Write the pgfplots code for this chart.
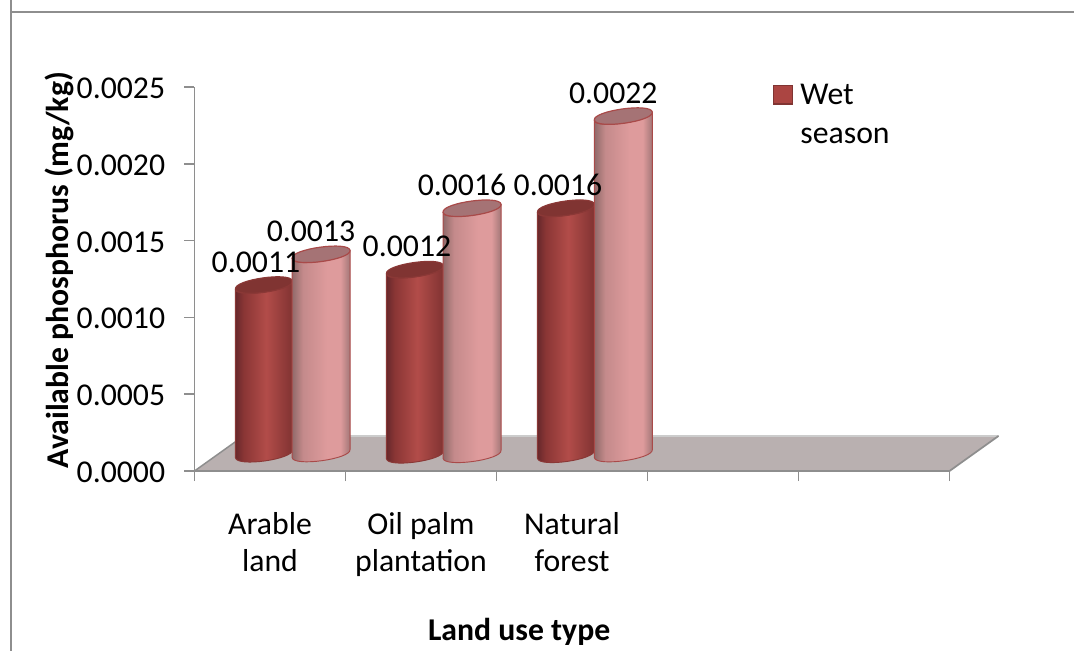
\documentclass[border=0pt]{standalone}
\usepackage{pgfplots}
\pgfplotsset{compat=1.18}
\usepackage{fontspec}
\setmainfont{Carlito}

\definecolor{axisgray}{HTML}{8E8E8E}
\definecolor{floorfill}{HTML}{B9B0B0}
\definecolor{edgered}{HTML}{A94A49}
\definecolor{edgedark}{HTML}{8A3836}
\definecolor{capdark}{HTML}{803432}
\definecolor{cappink}{HTML}{A57375}
\definecolor{legfill}{HTML}{AB4542}

\definecolor{dA}{HTML}{62262A}
\definecolor{dB}{HTML}{8A3635}
\definecolor{dC}{HTML}{B24C49}
\definecolor{dD}{HTML}{7E3231}
\definecolor{pA}{HTML}{8A6666}
\definecolor{pB}{HTML}{C48A8B}
\definecolor{pC}{HTML}{DE9B9C}
\definecolor{pD}{HTML}{9A7272}
\pgfdeclarehorizontalshading{cylDark}{100bp}{
  color(0bp)=(dA); color(25bp)=(dA); color(33bp)=(dB); color(52bp)=(dC);
  color(75bp)=(dD); color(100bp)=(dD)}
\pgfdeclarehorizontalshading{cylPink}{100bp}{
  color(0bp)=(pA); color(25bp)=(pA); color(35bp)=(pB); color(55bp)=(pC);
  color(66bp)=(pC); color(75bp)=(pD); color(100bp)=(pD)}

% Vertical distance, in pixels, from the front axis line to the cylinder bases
\def\baseLift{17}
% Pixels per unit of phosphorus, divided by 1000
\def\pxPerMilli{153.6}

% #1 shading, #2 half width, #3 top colour, #4 outline colour
\newcommand{\cylinderMark}[4]{%
  \pgfmathsetmacro\cylT{\baseLift}%
  \pgfmathsetmacro\cylB{\baseLift-\rawy*1000*\pxPerMilli}%
  \begin{scope}[x=0.75pt,y=0.75pt]
    \path[shading=#1,draw=#4,line width=0.7pt,line join=round]
      (-#2,\cylT-4) -- (-#2,\cylB-4)
      .. controls +(1.3,-9.5) and +(1.3,-9.5) .. (#2,\cylB+4)
      -- (#2,\cylT+4)
      .. controls +(-1.3,-9.5) and +(-1.3,-9.5) .. cycle;
    \path[fill=#3,draw=#4,line width=0.9pt]
      (-#2,\cylT-4)
      .. controls +(1.3,-9.5) and +(1.3,-9.5) .. (#2,\cylT+4)
      .. controls +(-1.3,9.5) and +(-1.3,9.5) .. cycle;
  \end{scope}}
\pgfdeclareplotmark{cylD}{\cylinderMark{cylDark}{28.5}{capdark}{edgedark}}
\pgfdeclareplotmark{cylP}{\cylinderMark{cylPink}{29}{cappink}{edgered}}

\pgfplotsset{
  cylinder plot/.style={scatter,only marks,scatter src=y,
    visualization depends on=rawy\as\rawy,mark=#1},
  value labels/.style 2 args={draw=none,mark=none,forget plot,
    point meta=y,
    nodes near coords={\pgfmathprintnumber[fixed,fixed zerofill,precision=4,assume math mode=true]{\pgfplotspointmeta}},
    every node near coord/.style={anchor=center,xshift=#1*0.75pt,yshift=#2*0.75pt,
      inner sep=0pt,text=black,font=\chartfont}},
}

\newcommand{\chartfont}{\fontsize{23.8pt}{27.8pt}\selectfont}
\newcommand{\legendfont}{\fontsize{23.8pt}{29.3pt}\selectfont}

\begin{document}
\begin{tikzpicture}[x=0.75pt,y=0.75pt]
\useasboundingbox (-194.5,-180) rectangle (879.5,471);
\draw[axisgray,line width=1.1pt] (-183.5,471) -- (-183.5,459) -- (879.5,459);
\draw[axisgray,line width=1.1pt] (-183.5,459) -- (-183.5,-180);
\begin{axis}[
  scale only axis,
  width=566.25pt,height=288pt,
  xmin=0,xmax=5,ymin=0,ymax=0.0025,
  clip=false,axis on top,
  axis x line*=bottom,axis y line*=left,
  axis line style={axisgray,line width=1.3pt},
  tick style={axisgray,line width=1.3pt},
  minor tick style={axisgray,line width=1.3pt},
  xtick={0.5,1.5,2.5},
  xticklabels={{Arable\\land},{Oil palm\\plantation},{Natural\\forest}},
  major x tick style={draw=none},
  minor xtick={0,1,2,3,4,5},
  minor tick length=7.5pt,
  ytick={0,0.0005,0.001,0.0015,0.002,0.0025},
  major tick length=7.5pt,
  tick align=outside,
  scaled y ticks=false,
  yticklabel style={font=\chartfont,xshift=-11pt,yshift=-1pt,text=black,
    /pgf/number format/.cd,fixed,fixed zerofill,precision=4,assume math mode=true},
  xticklabel style={font=\chartfont,align=center,text=black,
    text depth=0pt,yshift=-20pt},
  ylabel={\textbf{Available phosphorus (mg/kg)}},
  ylabel style={font=\chartfont,at={(axis description cs:-0.1795,0.523)},anchor=center},
  xlabel={\textbf{Land use type}},
  xlabel style={font=\chartfont,at={(axis description cs:0.43,-0.419)},anchor=center},
  legend style={at={(axis description cs:0.766,1.014)},anchor=north west,draw=none,
    fill=none,font=\legendfont,inner sep=0pt,
    cells={align=left,anchor=north west}},
  legend cell align=left,
]
% Floor of the plot
\addplot[forget plot,fill=floorfill,draw=none]
  coordinates {(0,0) (5,0) (5.3245,0.000228) (0.3245,0.000228)} -- cycle;
\addplot[forget plot,draw=black!20,line width=0.8pt]
  coordinates {(0.3245,0.000228) (5.3245,0.000228)};
\addplot[forget plot,draw=axisgray,line width=1.3pt]
  coordinates {(5,0) (5.3245,0.000228)};
\addplot[forget plot,draw=axisgray,line width=1.1pt]
  coordinates {(0,0) (0.3245,0.000228)};

% Wet season cylinders
\addplot[cylinder plot=cylD,
  legend image code/.code={
    \path[draw=none,fill=none] (0pt,-29pt) -- (18pt,2pt);
    \draw[fill=legfill,draw=capdark,line width=1pt]
      (0pt,8.5pt) rectangle (14pt,22.5pt);}]
  coordinates {(0.46,0.0011) (1.46,0.0012) (2.46,0.0016)};
\addlegendentry{Wet\\season}

% Second set of cylinders
\addplot[forget plot,cylinder plot=cylP]
  coordinates {(0.838,0.0013) (1.838,0.0016) (2.84,0.0022)};

% Value labels above the cylinders
\addplot[value labels={-8}{40}]
  coordinates {(0.46,0.0011) (1.46,0.0012) (2.46,0.0016)};
\addplot[value labels={-10}{40}]
  coordinates {(0.838,0.0013) (1.838,0.0016) (2.84,0.0022)};
\end{axis}
\end{tikzpicture}
\end{document}
